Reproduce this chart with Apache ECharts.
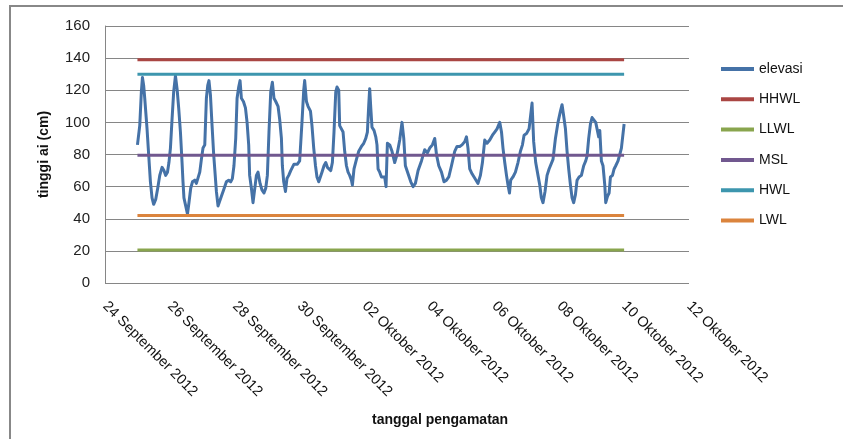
<!DOCTYPE html>
<html>
<head>
<meta charset="utf-8">
<script src="https://cdn.jsdelivr.net/npm/echarts@6/dist/echarts.min.js"></script>
<style>
html,body{margin:0;padding:0;background:#fff;}
#chart{width:843px;height:439px;}
</style>
</head>
<body>
<div id="chart"></div>
<script>
// x values: hours since 24 September 2012 00:00
var hours = [
24,25.7,26.9,27.7,28.6,29.4,31.1,32.3,33.6,34.8,
36.0,37.5,39.0,40.5,42.2,43.6,44.9,46.2,47.3,48.4,
49.6,50.8,52.1,53.3,54.5,55.8,57.0,57.7,58.4,59.7,
61.0,62.1,63.4,64.7,66.4,67.6,68.8,70.1,71.3,72.5,
73.8,75.0,76.0,76.9,78.0,79.2,80.4,82.4,83.6,84.9,
86.1,87.8,89.8,91.5,93.0,94.2,95.4,96.7,97.7,98.9,
99.9,100.9,102.4,103.9,105.1,106.3,107.0,108.3,109.5,110.7,
112.0,113.2,114.7,116.1,117.6,118.9,120.1,121.3,122.6,123.8,
125.0,126.3,128.0,129.2,130.5,131.2,132.2,133.5,134.6,135.9,
137.4,138.6,139.8,141.1,142.3,144.0,145.7,147.0,147.7,149.0,
150.2,152.0,153.1,154.4,155.7,156.8,158.1,159.3,160.5,162.0,
163.3,164.5,165.7,167.0,168.2,169.4,170.7,171.6,172.9,173.6,
174.9,176.1,177.3,178.6,179.8,181.0,182.3,183.0,184.2,186.0,
187.7,189.7,191.4,192.9,194.1,195.1,195.8,196.6,197.5,199.0,
200.3,201.2,202.0,203.2,204.5,205.7,206.9,207.9,208.9,210.6,
212.3,214.3,216.0,218.0,219.7,221.0,222.2,224.2,226.2,227.9,
229.6,231.6,234.1,236.5,238.5,240.2,242.2,243.9,245.2,246.9,
248.9,250.8,252.6,254.3,256.3,258.7,260.4,262.4,264.1,266.1,
267.4,268.5,269.8,271.5,273.0,274.0,275.9,277.7,279.2,280.9,
282.6,284.6,286.6,288.3,290.0,292.0,293.3,294.4,295.7,297.0,
298.1,299.2,300.1,301.8,303.6,305.5,307.3,308.8,310.0,311.8,
313.7,314.9,315.9,317.1,318.6,320.3,321.6,322.8,324.0,325.5,
327.0,328.5,331.4,333.2,335.1,336.9,338.1,339.3,340.6,341.8,
343.0,344.3,345.5,346.7,348.0,349.2,350.7,352.4,354.1,355.6,
356.6,357.8,359.1,360.3,361.5,363.0,364.3,365.2,366.0,367.2,
368.4,369.7,370.4,371.7,372.9,373.9,375.4,376.6,377.8,379.5,
380.8,382.0,384.0
];
var elevasi = [
86,98,119,128,123,115,96,80,63,53,
49,52,59,67,72,70,67,69,75,84,
102,119,129,121,109,94,75,63,53,48,
43,50,59,63,64,62,63,69,77,84,
86,115,123,126,117,98,80,57,48,47,
54,58,63,64,63,65,73,90,115,122,
126,115,113,109,100,86,67,59,50,50,
67,69,62,58,56,59,67,94,119,125,
115,113,110,102,90,73,63,57,65,67,
70,72,74,73,74,76,100,120,126,113,
110,107,98,84,73,66,63,64,69,73,
75,72,71,70,75,94,119,122,120,98,
97,94,82,73,69,67,64,61,71,77,
82,85,87,90,94,111,121,109,97,95,
91,86,71,69,66,67,66,60,87,86,
82,75,80,89,100,90,73,68,63,60,
62,70,76,83,81,84,86,90,80,73,
69,63,64,66,73,82,85,85,86,88,
91,84,71,68,66,65,62,67,75,89,
87,89,92,94,96,100,94,84,75,67,
61,56,64,66,69,75,82,86,92,93,
96,97,112,88,75,67,61,53,50,57,
67,71,77,90,100,107,111,104,96,82,
71,61,53,50,55,64,66,67,73,76,
79,90,99,103,102,100,99,91,95,76,
73,61,50,54,56,66,67,71,73,76,
80,84,99
];
var levelNames = ['HHWL','LLWL','MSL','HWL','LWL'];
var levelValues = [139, 20.5, 79.5, 130, 42];
var levelStart = 24;
var levelEnd = 384;
var tickLabels = ['24 September 2012','26 September 2012','28 September 2012','30 September 2012',
  '02 Oktober 2012','04 Oktober 2012','06 Oktober 2012','08 Oktober 2012','10 Oktober 2012','12 Oktober 2012'];

var colors = ['#4572A7','#AA4643','#89A54E','#71588F','#3D96AE','#DB843D'];
var FONT = 'Liberation Sans';

var series = [{
  name: 'elevasi',
  type: 'line',
  symbol: 'none',
  smooth: false,
  lineStyle: {width: 3, color: colors[0], join: 'round'},
  itemStyle: {color: colors[0]},
  data: hours.map(function(h, i){ return [h, elevasi[i]]; }),
  z: 2
}];
levelNames.forEach(function(n, i){
  series.push({
    name: n,
    type: 'line',
    symbol: 'none',
    lineStyle: {width: 3, color: colors[i+1]},
    itemStyle: {color: colors[i+1]},
    data: [[levelStart, levelValues[i]], [levelEnd, levelValues[i]]],
    z: 3
  });
});

var chart = echarts.init(document.getElementById('chart'));
chart.setOption({
  animation: false,
  backgroundColor: '#fff',
  textStyle: {fontFamily: FONT},
  grid: {left: 105, right: 154, top: 26, bottom: 156, containLabel: false},
  legend: {
    orient: 'vertical',
    left: 714,
    top: 57,
    itemWidth: 33,
    itemHeight: 14,
    itemGap: 16.3,
    itemStyle: {opacity: 0},
    lineStyle: {width: 4},
    textStyle: {fontSize: 14, color: '#111', fontFamily: FONT},
    data: ['elevasi'].concat(levelNames)
  },
  xAxis: {
    type: 'value',
    min: 0, max: 432, interval: 48,
    axisLine: {show: false},
    axisTick: {show: false},
    splitLine: {show: false},
    axisLabel: {
      rotate: -45,
      margin: 21,
      fontSize: 14.5,
      color: '#111',
      fontFamily: FONT,
      showMaxLabel: true,
      formatter: function(v){ return tickLabels[Math.round(v/48)] || ''; }
    }
  },
  yAxis: {
    type: 'value',
    min: 0, max: 160, interval: 20,
    name: 'tinggi ai (cm)',
    nameLocation: 'middle',
    nameGap: 54,
    nameTextStyle: {fontSize: 14, fontWeight: 'bold', color: '#111', fontFamily: FONT},
    axisLine: {show: true, lineStyle: {color: '#868686', width: 1}},
    axisTick: {show: false},
    splitLine: {show: true, lineStyle: {color: '#868686', width: 1}},
    axisLabel: {fontSize: 15, color: '#222', margin: 15, fontFamily: FONT}
  },
  graphic: [
    {type: 'line', shape: {x1: 10, y1: 6, x2: 10, y2: 439}, style: {stroke: '#888', lineWidth: 2}, silent: true},
    {type: 'line', shape: {x1: 9, y1: 6, x2: 843, y2: 6}, style: {stroke: '#888', lineWidth: 2}, silent: true},
    {type: 'text', left: 372, top: 413, style: {text: 'tanggal pengamatan', font: 'bold 14px "Liberation Sans"', fill: '#111'}}
  ],
  series: series
});
</script>
</body>
</html>
